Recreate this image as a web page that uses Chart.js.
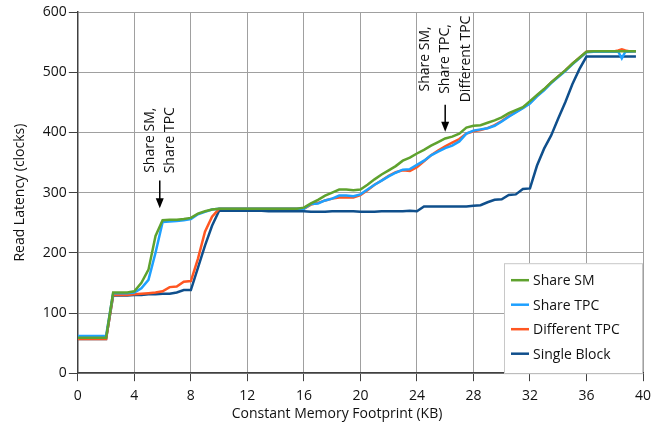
<!DOCTYPE html>
<html>
<head>
<meta charset="utf-8">
<script src="https://cdn.jsdelivr.net/npm/chart.js@4"></script>
<style>
    body { margin: 0; background: #fff; }
    #wrap { width: 665px; height: 434px; position: relative; }
</style>
</head>
<body>
<div id="wrap"><canvas id="latencyChart"></canvas></div>
<script>
// Footprint sizes (KB)
const footprintKB = [
    0, 0.5, 1, 1.5, 2, 2.5, 3, 3.5, 4, 4.5,
    5, 5.5, 6, 6.5, 7, 7.5, 8, 8.5, 9, 9.5,
    10, 10.5, 11, 11.5, 12, 12.5, 13, 13.5, 14, 14.5,
    15, 15.5, 16, 16.5, 17, 17.5, 18, 18.5, 19, 19.5,
    20, 20.5, 21, 21.5, 22, 22.5, 23, 23.5, 24, 24.5,
    25, 25.5, 26, 26.5, 27, 27.5, 28, 28.5, 29, 29.5,
    30, 30.5, 31, 31.5, 32, 32.5, 33, 33.5, 34, 34.5,
    35, 35.5, 36, 36.5, 37, 37.5, 38, 38.25, 38.5, 38.75,
    39, 39.5
];

// Read latency (clocks) for each series
const shareSM = [
    59, 59, 59, 59, 59, 134, 134, 134, 136, 150,
    172, 228, 254, 255, 255, 256, 258, 265, 269, 272,
    273, 273, 273, 273, 273, 273, 273, 273, 273, 273,
    273, 273, 275, 282, 288, 295, 300, 305, 305, 304,
    305, 313, 322, 330, 337, 344, 353, 358, 365, 371,
    378, 384, 390, 393, 398, 408, 411, 412, 416, 420,
    425, 432, 437, 442, 452, 462, 472, 483, 493, 503,
    514, 524, 534, 535, 535, 535, 535, 535, 535, 535,
    535, 535
];
const shareTPC = [
    62, 62, 62, 62, 62, 133, 133, 133, 134, 141,
    155, 200, 251, 252, 253, 254, 256, 264, 268, 272,
    273, 273, 273, 273, 273, 273, 273, 273, 273, 273,
    273, 273, 273, 281, 282, 287, 290, 295, 295, 294,
    297, 305, 313, 320, 327, 333, 338, 339, 346, 353,
    362, 368, 374, 378, 385, 398, 403, 405, 407, 411,
    418, 426, 433, 440, 448, 460, 470, 482, 492, 502,
    513, 523, 533, 534, 534, 534, 534, 534, 523, 534,
    534, 535
];
const differentTPC = [
    57, 57, 57, 57, 57, 130, 130, 130, 131, 132,
    133, 134, 136, 143, 144, 152, 153, 190, 235, 260,
    273, 273, 273, 273, 273, 273, 273, 273, 273, 273,
    273, 273, 273, 280, 283, 287, 290, 292, 292, 292,
    296, 304, 313, 320, 328, 334, 337, 336, 342, 352,
    362, 370, 377, 383, 389, 398, 402, 404, 407, 412,
    419, 427, 434, 441, 449, 461, 471, 483, 493, 503,
    514, 524, 534, 535, 535, 535, 535, 536, 538, 536,
    535, 535
];
const singleBlock = [
    57, 57, 57, 57, 57, 129, 129, 129, 130, 130,
    131, 131, 132, 132, 134, 138, 138, 175, 212, 245,
    270, 270, 270, 270, 270, 270, 270, 269, 269, 269,
    269, 269, 269, 268, 268, 268, 269, 269, 269, 269,
    268, 268, 268, 269, 269, 269, 269, 270, 269, 277,
    277, 277, 277, 277, 277, 277, 278, 279, 284, 288,
    289, 296, 297, 306, 307, 345, 373, 395, 423, 450,
    480, 505, 526, 526, 526, 526, 526, 526, 526, 526,
    526, 526
];

const seriesNames = ['Share SM', 'Share TPC', 'Different TPC', 'Single Block'];
const seriesValues = [shareSM, shareTPC, differentTPC, singleBlock];
const seriesColors = ['#5fa22e', '#1ea0ff', '#ff5622', '#0f4f8c'];

// Notes on the plot: lines of text, arrow x (KB), arrow from/to (clocks), text centre (clocks)
const notes = [
    { lines: ['Share SM,', 'Share TPC'], x: 5.8, from: 320, to: 274, textAt: 387 },
    { lines: ['Share SM,', 'Share TPC,', 'Different TPC'], x: 26.0, from: 446, to: 401, textAt: 522 }
];

const FONT = "'Open Sans', sans-serif";
const TEXT = '#111';

// legend box, annotations and x title drawn on the canvas
const overlayPlugin = {
    id: 'overlay',
    afterDraw(chart) {
        const ctx = chart.ctx;
        const xs = chart.scales.x, ys = chart.scales.y;
        ctx.save();

        // annotations
        ctx.fillStyle = TEXT;
        ctx.strokeStyle = '#000';
        ctx.font = '14px ' + FONT;
        notes.forEach(n => {
            const ax = xs.getPixelForValue(n.x);
            const ty = ys.getPixelForValue(n.textAt);
            n.lines.forEach((line, i) => {
                const lx = ax + (i - (n.lines.length - 1) / 2) * 20.5;
                ctx.save();
                ctx.translate(lx, ty);
                ctx.rotate(-Math.PI / 2);
                ctx.textAlign = 'center';
                ctx.textBaseline = 'middle';
                ctx.fillText(line, 0, 0);
                ctx.restore();
            });
            const y1 = ys.getPixelForValue(n.from), y2 = ys.getPixelForValue(n.to);
            ctx.lineWidth = 1.5;
            ctx.beginPath();
            ctx.moveTo(ax, y1);
            ctx.lineTo(ax, y2 - 8);
            ctx.stroke();
            ctx.fillStyle = '#000';
            ctx.beginPath();
            ctx.moveTo(ax - 4, y2 - 10);
            ctx.lineTo(ax + 4, y2 - 10);
            ctx.lineTo(ax, y2);
            ctx.closePath();
            ctx.fill();
            ctx.fillStyle = TEXT;
        });

        // legend
        const area = chart.chartArea;
        const bx = area.right - 139, by = area.bottom - 110, bw = 138, bh = 110;
        ctx.fillStyle = '#fff';
        ctx.fillRect(bx, by, bw, bh);
        ctx.strokeStyle = '#c8c8c8';
        ctx.lineWidth = 1;
        ctx.strokeRect(bx + 0.5, by + 0.5, bw, bh);
        ctx.font = '14px ' + FONT;
        ctx.textAlign = 'left';
        ctx.textBaseline = 'middle';
        chart.data.datasets.forEach((ds, i) => {
            const ry = by + 17 + i * 24.5;
            ctx.strokeStyle = ds.borderColor;
            ctx.lineWidth = 2.5;
            ctx.beginPath();
            ctx.moveTo(bx + 7, ry);
            ctx.lineTo(bx + 25, ry);
            ctx.stroke();
            ctx.fillStyle = TEXT;
            ctx.fillText(ds.label, bx + 29, ry + 1);
        });

        // x axis title
        ctx.textAlign = 'center';
        ctx.textBaseline = 'middle';
        ctx.fillText('Constant Memory Footprint (KB)', 337, 414);
        ctx.restore();
    }
};

new Chart(document.getElementById('latencyChart'), {
    type: 'line',
    data: {
        datasets: seriesNames.map((name, i) => ({
            label: name,
            data: footprintKB.map((kb, j) => ({ x: kb, y: seriesValues[i][j] })),
            borderColor: seriesColors[i],
            backgroundColor: seriesColors[i],
            borderWidth: 2.5,
            pointRadius: 0,
            tension: 0,
            fill: false
        }))
    },
    options: {
        responsive: true,
        maintainAspectRatio: false,
        animation: false,
        layout: { padding: { top: 12, right: 22, bottom: 24, left: 0 } },
        plugins: {
            legend: { display: false },
            tooltip: { enabled: false }
        },
        scales: {
            x: {
                type: 'linear',
                min: 0,
                max: 40,
                ticks: { stepSize: 4, color: TEXT, font: { family: FONT, size: 14 }, padding: 6, maxRotation: 0 },
                grid: { color: '#a0a0a0', lineWidth: 1, tickLength: 8, tickColor: '#404040' },
                border: { color: '#404040', width: 1.5 }
            },
            y: {
                min: 0,
                max: 600,
                ticks: { stepSize: 100, color: TEXT, font: { family: FONT, size: 14 }, padding: 2 },
                grid: { color: '#a0a0a0', lineWidth: 1, tickLength: 9, tickColor: '#404040' },
                border: { color: '#404040', width: 1.5 },
                title: {
                    display: true,
                    text: 'Read Latency (clocks)',
                    color: TEXT,
                    font: { family: FONT, size: 14 },
                    padding: { top: 12, bottom: 12 }
                }
            }
        }
    },
    plugins: [overlayPlugin]
});
</script>
</body>
</html>
